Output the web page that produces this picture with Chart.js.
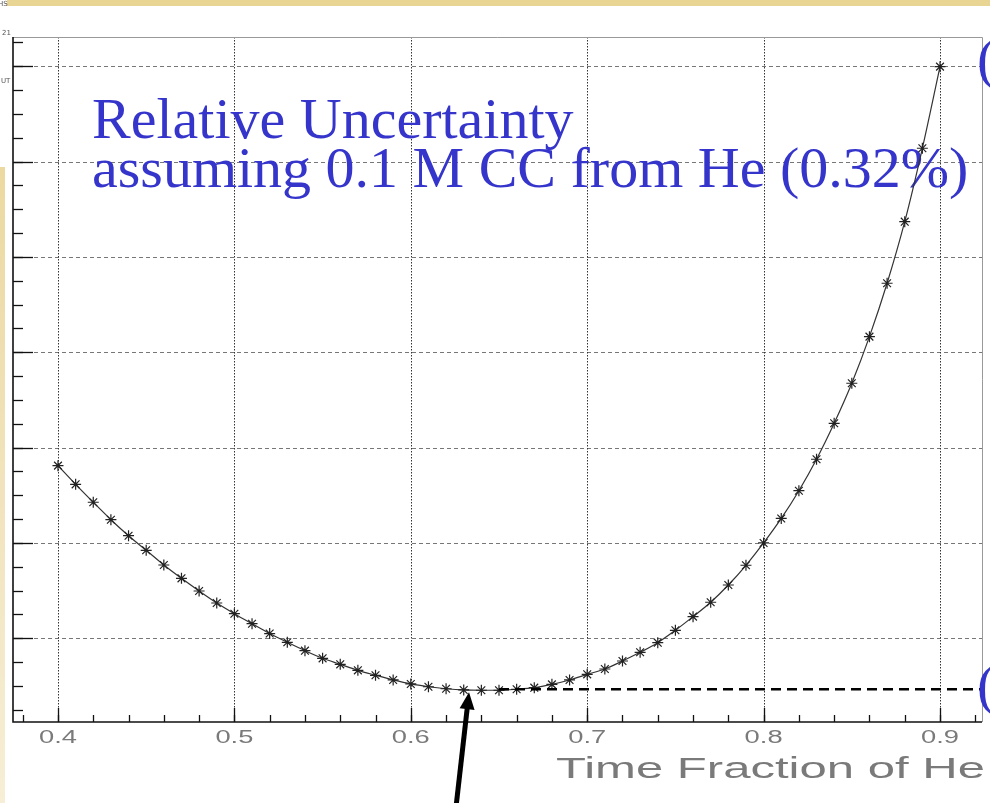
<!DOCTYPE html>
<html lang="en">
<head>
  <meta charset="UTF-8" />
  <title>Relative Uncertainty vs Time Fraction of He</title>
  <script src="https://cdn.jsdelivr.net/npm/chart.js"></script>
  <style>
    html, body { margin: 0; padding: 0; background: #fff; }
    #wrap { position: relative; width: 990px; height: 803px; overflow: hidden; }
    canvas { display: block; }
  </style>
</head>
<body>
<div id="wrap"><canvas id="uncChart" width="990" height="803"></canvas></div>
<script>
  // time fraction of He, one point every 0.01
  const fractions = [
    0.40, 0.41, 0.42, 0.43, 0.44, 0.45, 0.46, 0.47, 0.48, 0.49,
    0.50, 0.51, 0.52, 0.53, 0.54, 0.55, 0.56, 0.57, 0.58, 0.59,
    0.60, 0.61, 0.62, 0.63, 0.64, 0.65, 0.66, 0.67, 0.68, 0.69,
    0.70, 0.71, 0.72, 0.73, 0.74, 0.75, 0.76, 0.77, 0.78, 0.79,
    0.80, 0.81, 0.82, 0.83, 0.84, 0.85, 0.86, 0.87, 0.88, 0.89,
    0.90
  ];
  // relative uncertainty (axis units, one gridline per unit)
  const relUnc = [
    2.811, 2.615, 2.427, 2.244, 2.076, 1.923, 1.769, 1.629, 1.496, 1.370,
    1.258, 1.153, 1.050, 0.958, 0.870, 0.790, 0.727, 0.664, 0.612, 0.563,
    0.521, 0.492, 0.471, 0.458, 0.455, 0.455, 0.465, 0.482, 0.517, 0.563,
    0.622, 0.678, 0.762, 0.853, 0.954, 1.084, 1.227, 1.378, 1.559, 1.766,
    2.000, 2.257, 2.548, 2.878, 3.255, 3.675, 4.164, 4.724, 5.370, 6.140,
    6.996
  ];

  const xTicks = [0.4, 0.5, 0.6, 0.7, 0.8, 0.9];
  const xTickLabels = ['0.4', '0.5', '0.6', '0.7', '0.8', '0.9'];
  const xMinorStep = 0.02;
  const yGrid = [1, 2, 3, 4, 5, 6, 7];
  const yMinorStep = 0.25;

  const xRange = [0.3745, 0.9238];
  const yRange = [0.122, 7.307];

  const minLineFrom = 0.65;          // dashed level starts at the minimum
  const arrowAtX = 0.633;

  const titleLines = ['Relative Uncertainty', 'assuming 0.1 M CC from He (0.32%)'];
  const xTitle = 'Time Fraction of He';

  const blue = '#3535cc';

  // text squeezed/stretched to a given width, looks closer to the plotter font
  function wideText(ctx, text, x, y, font, width, color) {
    ctx.save();
    ctx.font = font;
    ctx.fillStyle = color;
    const w = ctx.measureText(text).width;
    ctx.translate(x, y);
    ctx.scale(width / w, 1);
    ctx.textAlign = 'left';
    ctx.textBaseline = 'alphabetic';
    ctx.fillText(text, 0, 0);
    ctx.restore();
  }

  const frame = {
    id: 'frame',
    beforeDatasetsDraw(chart) {
      const { ctx, chartArea: a } = chart;
      const xs = chart.scales.x, ys = chart.scales.y;
      ctx.save();
      // horizontal dashed grid
      ctx.strokeStyle = '#777';
      ctx.lineWidth = 1;
      ctx.setLineDash([4, 3]);
      yGrid.forEach(v => {
        const y = Math.round(ys.getPixelForValue(v)) + 0.5;
        ctx.beginPath(); ctx.moveTo(a.left, y); ctx.lineTo(a.right, y); ctx.stroke();
      });
      // vertical dotted grid
      ctx.strokeStyle = '#333';
      ctx.setLineDash([1.5, 1.5]);
      xTicks.forEach(v => {
        const x = Math.round(xs.getPixelForValue(v)) + 0.5;
        ctx.beginPath(); ctx.moveTo(x, a.top); ctx.lineTo(x, a.bottom); ctx.stroke();
      });
      ctx.setLineDash([]);

      // blue caption inside the pad
      ctx.fillStyle = blue;
      ctx.font = '58px "Liberation Serif", "DejaVu Serif", serif';
      ctx.textBaseline = 'alphabetic';
      ctx.fillText(titleLines[0], 92, 138);
      ctx.fillText(titleLines[1], 92, 187);
      ctx.restore();
    },
    afterDatasetsDraw(chart) {
      const { ctx, chartArea: a } = chart;
      const xs = chart.scales.x, ys = chart.scales.y;
      ctx.save();

      // dashed level at the minimum
      const yMin = Math.min(...relUnc);
      const ly = ys.getPixelForValue(yMin) - 1;
      ctx.strokeStyle = '#000';
      ctx.lineWidth = 2.5;
      ctx.setLineDash([10, 6]);
      ctx.beginPath();
      ctx.moveTo(xs.getPixelForValue(minLineFrom), ly);
      ctx.lineTo(a.right, ly);
      ctx.stroke();
      ctx.setLineDash([]);

      // frame
      ctx.strokeStyle = '#999';
      ctx.lineWidth = 1;
      ctx.beginPath();
      ctx.moveTo(a.left, a.top + 0.5); ctx.lineTo(a.right + 0.5, a.top + 0.5);
      ctx.lineTo(a.right + 0.5, a.bottom);
      ctx.stroke();
      ctx.strokeStyle = '#111';
      ctx.lineWidth = 1.6;
      ctx.beginPath();
      ctx.moveTo(a.left, a.top); ctx.lineTo(a.left, a.bottom); ctx.lineTo(a.right, a.bottom);
      ctx.stroke();

      // ticks
      ctx.lineWidth = 1.3;
      for (let v = 0.38; v < xRange[1]; v += xMinorStep) {
        const x = Math.round(xs.getPixelForValue(v)) + 0.5;
        ctx.beginPath(); ctx.moveTo(x, a.bottom); ctx.lineTo(x, a.bottom - 7); ctx.stroke();
      }
      xTicks.forEach(v => {
        const x = Math.round(xs.getPixelForValue(v)) + 0.5;
        ctx.beginPath(); ctx.moveTo(x, a.bottom); ctx.lineTo(x, a.bottom - 14); ctx.stroke();
      });
      for (let v = yMinorStep; v < yRange[1]; v += yMinorStep) {
        const y = Math.round(ys.getPixelForValue(v)) + 0.5;
        ctx.beginPath(); ctx.moveTo(a.left, y); ctx.lineTo(a.left + 10, y); ctx.stroke();
      }
      yGrid.forEach(v => {
        const y = Math.round(ys.getPixelForValue(v)) + 0.5;
        ctx.beginPath(); ctx.moveTo(a.left, y); ctx.lineTo(a.left + 20, y); ctx.stroke();
      });

      // tick labels and axis title, thin grey plotter-like lettering
      xTicks.forEach((v, i) => {
        const x = xs.getPixelForValue(v);
        wideText(ctx, xTickLabels[i], x - 19, a.bottom + 21, '18px "Liberation Sans", sans-serif', 38, '#7a7a7a');
      });
      wideText(ctx, xTitle, 556, a.bottom + 56, '29px "Liberation Sans", sans-serif', 429, '#7a7a7a');

      // arrow pointing at the minimum
      const tip = { x: xs.getPixelForValue(arrowAtX), y: ys.getPixelForValue(yMin) + 2 };
      const tail = { x: tip.x - 13, y: chart.height + 4 };
      const dx = tip.x - tail.x, dy = tip.y - tail.y;
      const len = Math.hypot(dx, dy), ux = dx / len, uy = dy / len;
      const hl = 17, hw = 7.5;
      const bx = tip.x - ux * hl, by = tip.y - uy * hl;
      ctx.strokeStyle = '#000';
      ctx.fillStyle = '#000';
      ctx.lineWidth = 5;
      ctx.beginPath(); ctx.moveTo(tail.x, tail.y); ctx.lineTo(bx + ux * 2, by + uy * 2); ctx.stroke();
      ctx.beginPath();
      ctx.moveTo(tip.x, tip.y);
      ctx.lineTo(bx - uy * hw, by + ux * hw);
      ctx.lineTo(bx + uy * hw, by - ux * hw);
      ctx.closePath();
      ctx.fill();

      // labels running off the right edge
      ctx.fillStyle = blue;
      ctx.font = '58px "Liberation Serif", serif';
      ctx.fillText('(', 977, 78);
      ctx.fillText('(', 977, 704);

      // slide decoration: top band and left band
      ctx.fillStyle = '#e8d493';
      ctx.fillRect(7, 0, chart.width - 7, 6);
      const g = ctx.createLinearGradient(0, 167, 0, chart.height);
      g.addColorStop(0, '#ecd9a1');
      g.addColorStop(1, '#f6eed6');
      ctx.fillStyle = g;
      ctx.fillRect(0, 167, 5, chart.height - 167);
      ctx.fillStyle = '#555';
      ctx.font = '7px "DejaVu Sans", sans-serif';
      ctx.fillText('HS', -2, 6);
      ctx.fillText('21', 2, 35);
      ctx.fillText('UT', 1, 83);
      ctx.restore();
    }
  };

  new Chart(document.getElementById('uncChart'), {
    type: 'line',
    data: {
      datasets: [{
        label: 'Relative uncertainty',
        data: fractions.map((f, i) => ({ x: f, y: relUnc[i] })),
        borderColor: '#333',
        borderWidth: 1.2,
        pointStyle: 'star',
        pointRadius: 5.5,
        pointBorderWidth: 1.2,
        pointBorderColor: '#222',
        pointBackgroundColor: '#222',
        cubicInterpolationMode: 'monotone',
        fill: false
      }]
    },
    options: {
      responsive: false,
      devicePixelRatio: 1,
      animation: false,
      layout: { padding: { left: 13, top: 37, right: 8, bottom: 81 } },
      scales: {
        x: { type: 'linear', display: false, min: xRange[0], max: xRange[1] },
        y: { type: 'linear', display: false, min: yRange[0], max: yRange[1] }
      },
      plugins: { legend: { display: false }, tooltip: { enabled: false } }
    },
    plugins: [frame]
  });
</script>
</body>
</html>
